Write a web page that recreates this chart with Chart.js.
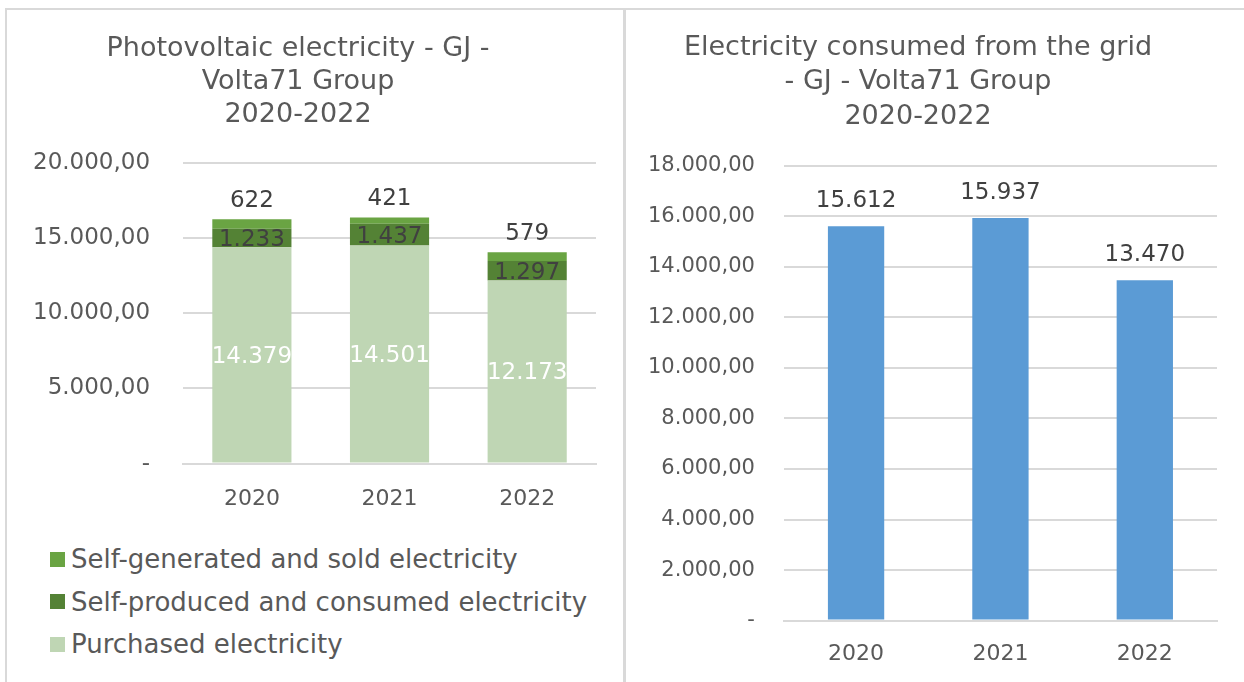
<!DOCTYPE html>
<html>
<head>
<meta charset="utf-8">
<script src="https://cdn.jsdelivr.net/npm/chart.js@4.4.0/dist/chart.umd.min.js"></script>
<style>
    body { margin: 0; background: #fff; font-family: "DejaVu Sans", sans-serif; }
    .panel { position: absolute; top: 8px; height: 700px; border: 2px solid #d9d9d9; box-sizing: border-box; background: #fff; }
    #left-panel { left: 5px; width: 620px; }
    #right-panel { left: 624px; width: 640px; }
    .chart-box { position: absolute; left: -7px; top: 0; }
    #left-box { width: 623px; height: 522px; }
    #right-box { width: 623px; height: 680px; }
    .legend { position: absolute; left: 43px; top: 528px; color: #595959; font-size: 26px; }
    .legend-item { height: 42.5px; display: flex; align-items: center; }
    .legend-swatch { width: 15px; height: 15px; margin-right: 6px; }
</style>
</head>
<body>
<div class="panel" id="left-panel">
    <div class="chart-box" id="left-box"><canvas id="pv-chart"></canvas></div>
    <div class="legend" id="pv-legend"></div>
</div>
<div class="panel" id="right-panel">
    <div class="chart-box" id="right-box"><canvas id="grid-chart"></canvas></div>
</div>
<script>
const years = ['2020', '2021', '2022'];
const purchased = [14379, 14501, 12173];
const selfConsumed = [1233, 1437, 1297];
const selfSold = [622, 421, 579];
const gridConsumed = [15612, 15937, 13470];

const pvTitle = ['Photovoltaic electricity - GJ -', 'Volta71 Group', '2020-2022'];
const gridTitle = ['Electricity consumed from the grid', '- GJ - Volta71 Group', '2020-2022'];

const TEXT = '#595959';
const LABEL = '#404040';
const FONT = '"DejaVu Sans", sans-serif';

// 15612 -> "15.612", 20000 -> "20.000,00"
function groupThousands(n) {
    return String(Math.round(n)).replace(/\B(?=(\d{3})+(?!\d))/g, '.');
}
function tickFormat(v) {
    return v === 0 ? '-' : groupThousands(v) + ',00';
}

// draws value labels from each bar element
const barLabels = {
    id: 'barLabels',
    afterDatasetsDraw(chart, args, opts) {
        const ctx = chart.ctx;
        chart.data.datasets.forEach((ds, i) => {
            const meta = chart.getDatasetMeta(i);
            const mode = ds.labelMode;
            meta.data.forEach((bar, j) => {
                const text = groupThousands(ds.data[j]);
                ctx.save();
                ctx.font = `${opts.size}px ${FONT}`;
                ctx.textAlign = 'center';
                ctx.textBaseline = 'middle';
                ctx.fillStyle = ds.labelColor;
                let y;
                if (mode === 'top') {
                    y = bar.y - opts.offset;
                } else {
                    y = (bar.y + bar.base) / 2 + 2;
                }
                ctx.fillText(text, bar.x, y);
                ctx.restore();
            });
        });
    }
};

function baseOptions(title, max, step, tickSize, tickPad) {
    return {
        responsive: true,
        maintainAspectRatio: false,
        animation: false,
        layout: { padding: { left: 0, right: 27, top: 0, bottom: 6 } },
        plugins: {
            legend: { display: false },
            tooltip: { enabled: false },
            title: {
                display: true,
                text: title,
                color: TEXT,
                font: { family: FONT, size: 27, weight: 'normal', lineHeight: 1.23 },
                padding: { top: 22, bottom: 31 }
            }
        },
        scales: {
            x: {
                stacked: true,
                grid: { display: false },
                border: { color: '#d9d9d9', width: 2 },
                ticks: { color: TEXT, font: { family: FONT, size: 22 }, padding: 14 }
            },
            y: {
                stacked: true,
                min: 0,
                max: max,
                border: { display: false },
                grid: { color: '#d9d9d9', lineWidth: 2, drawTicks: false },
                ticks: {
                    stepSize: step,
                    color: TEXT,
                    font: { family: FONT, size: tickSize },
                    padding: tickPad,
                    callback: v => tickFormat(v)
                }
            }
        }
    };
}

function buildPvChart() {
    const ctx = document.getElementById('pv-chart').getContext('2d');
    const opts = baseOptions(pvTitle, 20000, 5000, 23, 33);
    opts.plugins.barLabels = { size: 23, offset: 18 };
    new Chart(ctx, {
        type: 'bar',
        data: {
            labels: years,
            datasets: [
                { label: 'Purchased electricity', data: purchased, backgroundColor: '#bfd6b4', labelColor: '#ffffff', labelMode: 'center', barPercentage: 1, categoryPercentage: 0.575 },
                { label: 'Self-produced and consumed electricity', data: selfConsumed, backgroundColor: '#548235', labelColor: LABEL, labelMode: 'center', barPercentage: 1, categoryPercentage: 0.575 },
                { label: 'Self-generated and sold electricity', data: selfSold, backgroundColor: '#6aa443', labelColor: LABEL, labelMode: 'top', barPercentage: 1, categoryPercentage: 0.575 }
            ]
        },
        options: opts,
        plugins: [barLabels]
    });

    // legend listed top-down, last dataset first
    const legend = document.getElementById('pv-legend');
    const items = [
        ['Self-generated and sold electricity', '#6aa443'],
        ['Self-produced and consumed electricity', '#548235'],
        ['Purchased electricity', '#bfd6b4']
    ];
    let html = '';
    items.forEach(item => {
        html += `<div class="legend-item"><span class="legend-swatch" style="background:${item[1]}"></span>${item[0]}</div>`;
    });
    legend.innerHTML = html;
}

function buildGridChart() {
    const ctx = document.getElementById('grid-chart').getContext('2d');
    const opts = baseOptions(gridTitle, 18000, 2000, 21, 29);
    opts.layout.padding.right = 25;
    opts.layout.padding.bottom = 11;
    opts.plugins.title.padding = { top: 21, bottom: 32 };
    opts.plugins.title.font.lineHeight = 1.27;
    opts.scales.x.ticks.padding = 12;
    opts.plugins.barLabels = { size: 23, offset: 25 };
    new Chart(ctx, {
        type: 'bar',
        data: {
            labels: years,
            datasets: [
                { label: 'Electricity consumed from the grid', data: gridConsumed, backgroundColor: '#5b9bd5', labelColor: LABEL, labelMode: 'top', barPercentage: 1, categoryPercentage: 0.39 }
            ]
        },
        options: opts,
        plugins: [barLabels]
    });
}

window.onload = () => {
    buildPvChart();
    buildGridChart();
};
</script>
</body>
</html>
